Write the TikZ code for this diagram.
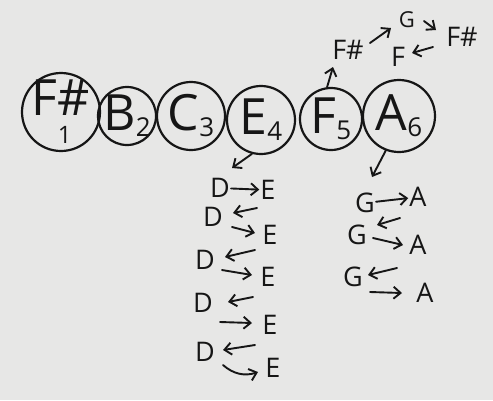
\documentclass[tikz,border=0pt]{standalone}
\usepackage{fontspec}
\setmainfont{Open Sans}
\usepackage{xcolor}
\usetikzlibrary{arrows.meta}
\definecolor{paper}{RGB}{231,231,230}
\definecolor{ink}{RGB}{22,22,22}
\newcommand{\lowidx}[1]{\raisebox{-6pt}{\fontsize{26}{26}\selectfont #1}}

\begin{document}
\begin{tikzpicture}[x=1pt, y=-1pt,
      note/.style={draw=ink, circle, line width=2.2pt, inner sep=-10pt,
                   font=\fontsize{50}{52}\selectfont, text=ink},
      lbl/.style={inner sep=1pt, font=\fontsize{27}{27}\selectfont, text=ink},
      small/.style={inner sep=1pt, font=\fontsize{22}{22}\selectfont, text=ink},
      arr/.style={-{Straight Barb[length=7pt,width=12pt]}, line width=1.9pt,
                  color=ink, line cap=round}
  ]
    \fill[paper] (0,0) rectangle (493,400);
    \useasboundingbox (0,0) rectangle (493,400);

    % the row of notes
    \node[note, minimum size=78pt, align=left] (fs1) at (61,112)
         {F\#\\[-24pt]\hspace*{26pt}{\fontsize{24}{24}\selectfont 1}};
    \node[note, minimum size=58pt] (b2) at (127,116) {B\lowidx{2}};
    \node[note, minimum size=68pt] (c3) at (191,116) {C\lowidx{3}};
    \node[note, minimum size=68pt] (e4) at (261,120) {E\lowidx{4}};
    \node[note, minimum size=62pt] (f5) at (331,119) {F\lowidx{5}};
    \node[note, minimum size=72pt] (a6) at (399,116) {A\lowidx{6}};

    % above F5
    \node[lbl] (fsh)  at (348,50) {F\#};
    \node[small] (gtop) at (407,20) {G};
    \node[lbl] (fshr) at (462,37) {F\#};
    \node[lbl] (ftop) at (398,57) {F};
    \draw[arr] (f5.97) -- ([shift={(-15,17)}]fsh.center);
    \draw[arr] ([shift={(22,-7)}]fsh.center) -- ([shift={(-16,8)}]gtop.center);
    \draw[arr] ([shift={(17,1)}]gtop.center) -- ([shift={(-26,-7)}]fshr.center);
    \draw[arr] ([shift={(-29,10)}]fshr.center) -- ([shift={(14,-4)}]ftop.center);

    % below E4
    \node[lbl] (dl1) at (220,188) {D};
    \node[lbl] (el1) at (268,190) {E};
    \node[lbl] (dl2) at (213,217) {D};
    \node[lbl] (el2) at (270,235) {E};
    \node[lbl] (dl3) at (205,260) {D};
    \node[lbl] (el3) at (268,277) {E};
    \node[lbl] (dl4) at (203,303) {D};
    \node[lbl] (el4) at (270,325) {E};
    \node[lbl] (dl5) at (205,352) {D};
    \node[lbl] (el5) at (273,368) {E};
    \draw[arr] (e4.255) -- ([shift={(12,-20)}]dl1.center);
    \draw[arr] (dl1) -- (el1);
    \draw[arr] ([shift={(-13,-27)}]el2.center) -- ([shift={(20,-4)}]dl2.center);
    \draw[arr] ([shift={(19,10)}]dl2.center) -- ([shift={(-15,-2)}]el2.center);
    \draw[arr] ([shift={(-13,-27)}]el3.center) -- ([shift={(20,-3)}]dl3.center);
    \draw[arr] ([shift={(17,10)}]dl3.center) -- ([shift={(-16,-2)}]el3.center);
    \draw[arr] ([shift={(-17,-28)}]el4.center) -- ([shift={(25,-1)}]dl4.center);
    \draw[arr] ([shift={(17,19)}]dl4.center) -- ([shift={(-18,-2)}]el4.center);
    \draw[arr] ([shift={(-18,-23)}]el5.center) -- ([shift={(18,-2)}]dl5.center);
    \draw[arr] ([shift={(18,13)}]dl5.center) to[bend right=30] ([shift={(-15,4)}]el5.center);

    % below A6
    \node[lbl] (gr1) at (365,203) {G};
    \node[lbl] (ar1) at (418,197) {A};
    \node[lbl] (gr2) at (357,235) {G};
    \node[lbl] (ar2) at (418,245) {A};
    \node[lbl] (gr3) at (353,277) {G};
    \node[lbl] (ar3) at (425,293) {A};
    \draw[arr] (a6.249) -- ([shift={(7,-26)}]gr1.center);
    \draw[arr] (gr1) -- (ar1);
    \draw[arr] ([shift={(-18,-27)}]ar2.center) -- ([shift={(20,-10)}]gr2.center);
    \draw[arr] ([shift={(16,3)}]gr2.center) -- ([shift={(-15,0)}]ar2.center);
    \draw[arr] ([shift={(-28,-25)}]ar3.center) -- ([shift={(15,-2)}]gr3.center);
    \draw[arr] ([shift={(17,15)}]gr3.center) -- ([shift={(-23,0)}]ar3.center);
  \end{tikzpicture}
\end{document}
